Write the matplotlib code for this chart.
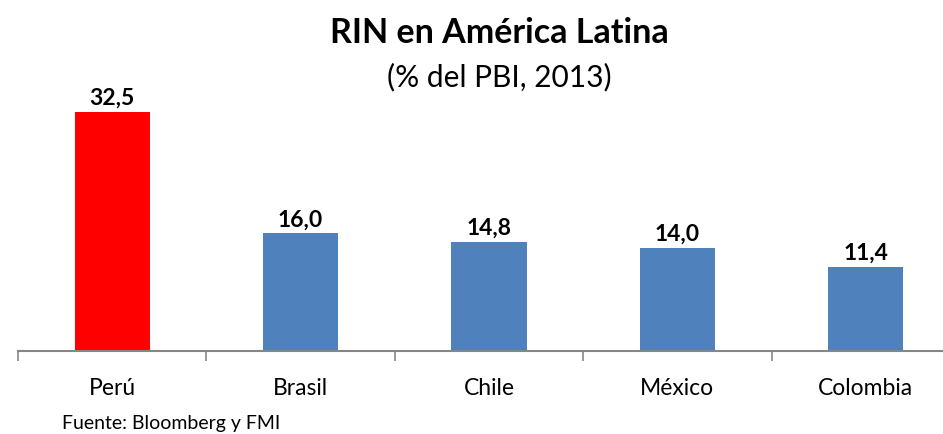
import matplotlib.pyplot as plt

paises = ["Perú", "Brasil", "Chile", "México", "Colombia"]
rin = [32.5, 16.0, 14.8, 14.0, 11.4]
colores = ["#FF0000", "#4F81BD", "#4F81BD", "#4F81BD", "#4F81BD"]

plt.rcParams['font.family'] = ['Lato', 'DejaVu Sans']

fig = plt.figure(figsize=(9.43, 4.35), dpi=100)
ax = fig.add_axes([18 / 943, 83 / 435, 942 / 943, 257.3 / 435])

x = range(len(paises))
barras = ax.bar(x, rin, width=0.4, color=colores)

for b, v in zip(barras, rin):
    ax.annotate(f"{v:.1f}".replace(".", ","), (b.get_x() + b.get_width() / 2, v),
                xytext=(0, 3), textcoords="offset points", ha="center", va="bottom",
                fontsize=16.5, fontweight="bold")

ax.set_xlim(-0.5, len(paises) - 0.5)
ax.set_ylim(0, 35)
ax.set_xticks([i - 0.5 for i in range(len(paises) + 1)])
ax.set_xticklabels([])
ax.set_xticks(list(x), minor=True)
ax.set_xticklabels(paises, minor=True, fontsize=16.5)
ax.tick_params(axis="x", which="major", length=7, width=1.2, color="#868686")
ax.tick_params(axis="x", which="minor", length=0, pad=19)
ax.set_yticks([])
for s in ["top", "right", "left"]:
    ax.spines[s].set_visible(False)
ax.spines["bottom"].set_color("#868686")
ax.spines["bottom"].set_linewidth(1.5)

# titulo centrado sobre el area de barras
fig.text(499 / 943, 0.925, "RIN en América Latina", ha="center", va="center",
         fontsize=24.5, fontweight="bold")
fig.text(499 / 943, 0.823, "(% del PBI, 2013)", ha="center", va="center", fontsize=21.5)
fig.text(62 / 943, 0.027, "Fuente: Bloomberg y FMI", ha="left", va="center", fontsize=14)

fig.savefig("out.png", dpi=100)
